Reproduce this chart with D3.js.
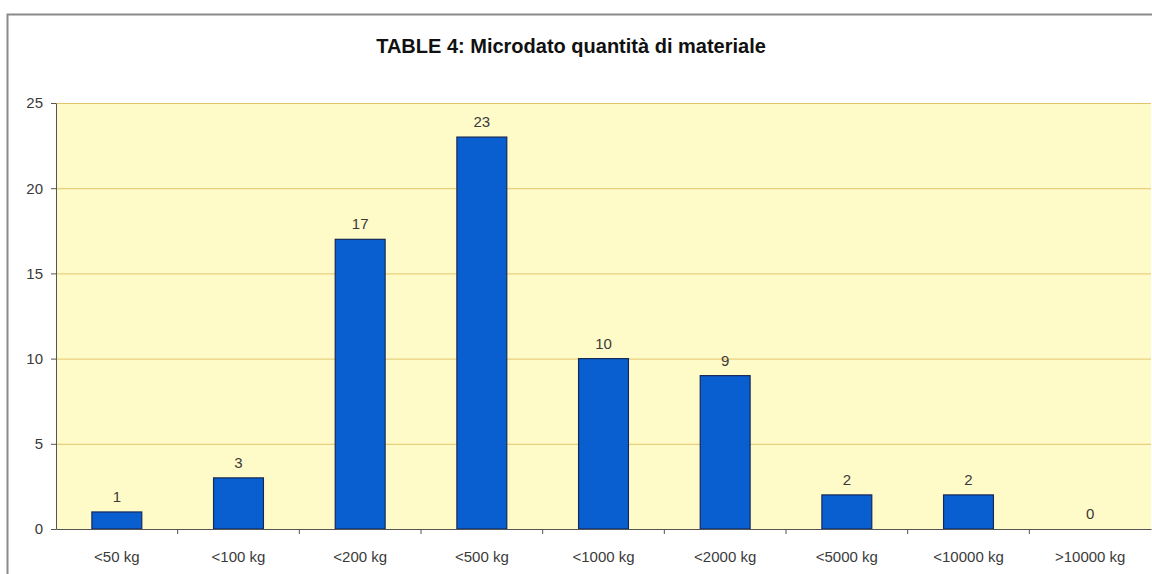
<!DOCTYPE html>
<html>
<head>
<meta charset="utf-8">
<script src="https://cdn.jsdelivr.net/npm/d3@7"></script>
<style>
  body { margin: 0; background: #fff; }
  .axis text { font-family: "Liberation Sans", Arial, sans-serif; font-size: 15px; fill: #3a3a3a; }
  .axis path, .axis line { stroke: #555; }
</style>
</head>
<body>
<div id="chart"></div>
<script>
// Data
const categories = ["<50 kg", "<100 kg", "<200 kg", "<500 kg", "<1000 kg", "<2000 kg", "<5000 kg", "<10000 kg", ">10000 kg"];
const counts = [1, 3, 17, 23, 10, 9, 2, 2, 0];
const yTicks = [0, 5, 10, 15, 20, 25];

const width = 1152;
const height = 574;
const margin = {top: 103, right: 1, bottom: 45, left: 56};
const w = width - margin.left - margin.right;
const h = height - margin.top - margin.bottom;

const svg = d3.select("#chart")
  .append("svg")
  .attr("width", width)
  .attr("height", height);

// outer frame (extends past the right and bottom edge)
svg.append("rect")
  .attr("x", 7.5).attr("y", 14.5)
  .attr("width", width + 10).attr("height", height + 10)
  .attr("fill", "none")
  .attr("stroke", "#8a8a8a")
  .attr("stroke-width", 2);

svg.append("text")
  .attr("x", 571)
  .attr("y", 53)
  .attr("text-anchor", "middle")
  .style("font-family", "\"Liberation Sans\", Arial, sans-serif")
  .style("font-weight", "bold")
  .style("font-size", "20px")
  .style("fill", "#111")
  .text("TABLE 4: Microdato quantità di materiale");

const g = svg.append("g")
  .attr("transform", "translate(" + margin.left + "," + margin.top + ")");

const xScale = d3.scaleBand()
  .domain(categories)
  .range([0, w])
  .paddingInner(0.59)
  .paddingOuter(0.295);

const yScale = d3.scaleLinear()
  .domain([0, 25])
  .range([h, 0]);

// plot background
g.append("rect")
  .attr("width", w)
  .attr("height", h)
  .attr("fill", "#fffbc8");

// grid lines
g.selectAll(".grid")
  .data(yTicks.filter(function(d) { return d > 0; }))
  .enter()
  .append("line")
  .attr("class", "grid")
  .attr("x1", 0).attr("x2", w)
  .attr("y1", function(d) { return yScale(d) + 0.5; })
  .attr("y2", function(d) { return yScale(d) + 0.5; })
  .attr("stroke", "#e2c56a")
  .attr("stroke-width", 1);

// bars
g.selectAll(".bar")
  .data(counts)
  .enter()
  .append("rect")
  .attr("class", "bar")
  .attr("x", function(d, i) { return xScale(categories[i]); })
  .attr("y", function(d) { return yScale(d); })
  .attr("width", xScale.bandwidth())
  .attr("height", function(d) { return h - yScale(d); })
  .attr("fill", "#0a5fd0")
  .attr("stroke", "#14285a")
  .attr("stroke-width", 1.2);

// value labels
g.selectAll(".val")
  .data(counts)
  .enter()
  .append("text")
  .attr("class", "val")
  .attr("x", function(d, i) { return xScale(categories[i]) + xScale.bandwidth() / 2; })
  .attr("y", function(d) { return yScale(d) - 10; })
  .attr("text-anchor", "middle")
  .style("font-family", "\"Liberation Sans\", Arial, sans-serif")
  .style("font-size", "15px")
  .style("fill", "#3a3a3a")
  .text(function(d) { return d; });

// X axis, ticks between categories
const xAxisG = g.append("g")
  .attr("class", "axis")
  .attr("transform", "translate(0," + h + ")")
  .call(d3.axisBottom(xScale).tickSize(0).tickSizeOuter(0).tickPadding(22));

xAxisG.selectAll(".sep")
  .data(categories.slice(1))
  .enter()
  .append("line")
  .attr("class", "sep")
  .attr("x1", function(d) { return xScale(d) - xScale.step() * xScale.paddingInner() / 2; })
  .attr("x2", function(d) { return xScale(d) - xScale.step() * xScale.paddingInner() / 2; })
  .attr("y1", 0).attr("y2", 5);

// Y axis
g.append("g")
  .attr("class", "axis")
  .call(d3.axisLeft(yScale).tickValues(yTicks).tickSize(5).tickSizeOuter(0).tickPadding(8));
</script>
</body>
</html>
